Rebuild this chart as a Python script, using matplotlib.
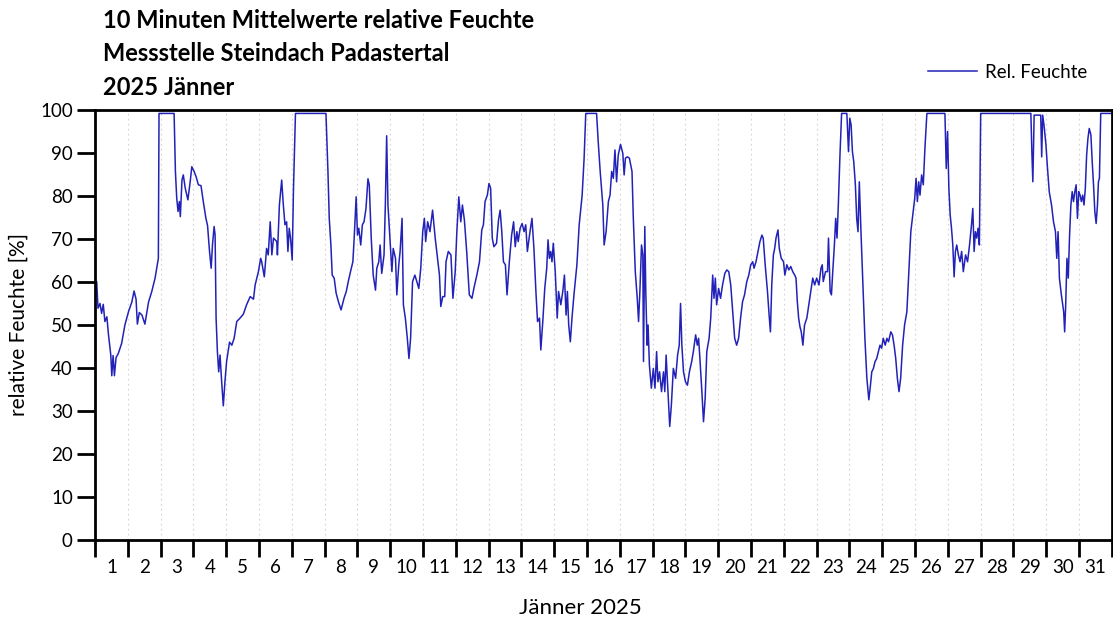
import matplotlib.pyplot as plt

plt.rcParams['font.family'] = ['Lato', 'DejaVu Sans']

# Zeitpunkt in Tagen ab 1. Jänner 00:00 und relative Feuchte in %
tage = [
    0.00, 0.05, 0.09, 0.15, 0.20, 0.25, 0.30, 0.36, 0.41, 0.48, 0.51, 0.55, 0.59, 0.64, 0.71,
    0.81, 0.91, 1.02, 1.12, 1.19, 1.25, 1.29, 1.35, 1.43, 1.52, 1.63, 1.73, 1.83, 1.88, 1.93,
    1.95, 2.41, 2.45, 2.49, 2.53, 2.57, 2.60, 2.65, 2.69, 2.75, 2.83, 2.90, 2.95, 3.02, 3.08,
    3.15, 3.23, 3.30, 3.38, 3.43, 3.49, 3.54, 3.58, 3.63, 3.66, 3.69, 3.73, 3.77, 3.81, 3.86,
    3.91, 3.96, 4.01, 4.10, 4.17, 4.24, 4.32, 4.42, 4.52, 4.62, 4.73, 4.83, 4.88, 4.98, 5.05,
    5.08, 5.16, 5.23, 5.28, 5.34, 5.39, 5.44, 5.54, 5.56, 5.62, 5.69, 5.74, 5.79, 5.84, 5.88,
    5.92, 5.96, 6.01, 6.05, 6.11, 7.04, 7.10, 7.14, 7.19, 7.23, 7.29, 7.35, 7.42, 7.50, 7.59,
    7.66, 7.72, 7.80, 7.86, 7.90, 7.96, 8.00, 8.04, 8.10, 8.15, 8.20, 8.26, 8.32, 8.36, 8.42,
    8.48, 8.55, 8.59, 8.65, 8.69, 8.74, 8.81, 8.85, 8.89, 8.93, 8.99, 9.05, 9.09, 9.16, 9.20,
    9.26, 9.30, 9.36, 9.40, 9.46, 9.52, 9.57, 9.62, 9.68, 9.75, 9.81, 9.87, 9.93, 9.99, 10.04,
    10.08, 10.14, 10.21, 10.29, 10.37, 10.44, 10.50, 10.54, 10.60, 10.66, 10.70, 10.77, 10.85, 10.91, 10.98,
    11.03, 11.09, 11.15, 11.20, 11.26, 11.33, 11.41, 11.49, 11.56, 11.64, 11.72, 11.79, 11.84, 11.89, 11.96,
    12.01, 12.06, 12.11, 12.16, 12.24, 12.30, 12.35, 12.40, 12.45, 12.51, 12.56, 12.63, 12.70, 12.76, 12.81,
    12.86, 12.90, 12.96, 13.02, 13.08, 13.13, 13.18, 13.26, 13.32, 13.38, 13.44, 13.49, 13.55, 13.59, 13.65,
    13.71, 13.77, 13.81, 13.85, 13.89, 13.93, 13.97, 14.03, 14.09, 14.13, 14.20, 14.26, 14.31, 14.36, 14.40,
    14.44, 14.49, 14.54, 14.60, 14.69, 14.76, 14.85, 14.91, 14.96, 15.29, 15.34, 15.40, 15.48, 15.52, 15.58,
    15.65, 15.70, 15.75, 15.80, 15.85, 15.90, 15.95, 16.02, 16.09, 16.13, 16.17, 16.23, 16.29, 16.33, 16.37,
    16.41, 16.47, 16.53, 16.57, 16.61, 16.66, 16.70, 16.72, 16.76, 16.79, 16.83, 16.86, 16.90, 16.96, 17.02,
    17.07, 17.12, 17.16, 17.21, 17.27, 17.33, 17.37, 17.41, 17.47, 17.52, 17.57, 17.63, 17.70, 17.76, 17.81,
    17.85, 17.89, 17.94, 18.00, 18.06, 18.12, 18.19, 18.24, 18.31, 18.36, 18.40, 18.44, 18.50, 18.55, 18.60,
    18.65, 18.72, 18.77, 18.83, 18.87, 18.91, 18.95, 19.01, 19.07, 19.13, 19.20, 19.26, 19.32, 19.38, 19.44,
    19.50, 19.56, 19.62, 19.68, 19.74, 19.80, 19.87, 19.93, 19.99, 20.05, 20.09, 20.15, 20.21, 20.27, 20.33,
    20.37, 20.43, 20.50, 20.55, 20.59, 20.63, 20.68, 20.72, 20.76, 20.82, 20.86, 20.92, 20.99, 21.03, 21.09,
    21.15, 21.21, 21.27, 21.33, 21.37, 21.41, 21.45, 21.49, 21.53, 21.58, 21.63, 21.70, 21.76, 21.82, 21.88,
    21.94, 22.00, 22.07, 22.13, 22.17, 22.20, 22.27, 22.33, 22.36, 22.41, 22.45, 22.49, 22.54, 22.58, 22.62,
    22.66, 22.71, 22.76, 22.92, 22.97, 23.01, 23.05, 23.09, 23.13, 23.18, 23.22, 23.26, 23.30, 23.35, 23.41,
    23.47, 23.53, 23.59, 23.63, 23.68, 23.73, 23.78, 23.83, 23.88, 23.93, 23.98, 24.03, 24.09, 24.14, 24.19,
    24.26, 24.31, 24.36, 24.41, 24.46, 24.51, 24.56, 24.62, 24.68, 24.75, 24.80, 24.87, 24.93, 24.99, 25.03,
    25.07, 25.11, 25.15, 25.20, 25.25, 25.30, 25.36, 25.86, 25.91, 25.95, 25.99, 26.03, 26.07, 26.11, 26.15,
    26.19, 26.23, 26.27, 26.32, 26.37, 26.42, 26.47, 26.54, 26.60, 26.66, 26.72, 26.76, 26.80, 26.84, 26.88,
    26.92, 26.96, 27.00, 28.53, 28.56, 28.59, 28.63, 28.83, 28.86, 28.89, 28.93, 28.99, 29.03, 29.09, 29.16,
    29.22, 29.28, 29.32, 29.36, 29.40, 29.46, 29.53, 29.56, 29.59, 29.63, 29.67, 29.71, 29.75, 29.79, 29.83,
    29.87, 29.91, 29.95, 29.99, 30.03, 30.07, 30.11, 30.15, 30.19, 30.23, 30.27, 30.31, 30.36, 30.40, 30.44,
    30.48, 30.52, 30.56, 30.59, 30.62, 30.66, 31.00,
]
feuchte = [
    57.8, 60.1, 53.9, 55.0, 52.7, 54.8, 50.8, 51.9, 47.7, 43.0, 38.2, 42.9, 38.2, 42.4, 43.4,
    45.7, 50.0, 53.1, 55.3, 57.9, 56.0, 50.2, 52.9, 52.3, 50.2, 55.3, 57.8, 60.9, 63.2, 65.5,
    99.2, 99.2, 85.7, 79.5, 76.4, 78.7, 75.2, 83.7, 84.9, 81.8, 79.1, 83.3, 86.8, 85.7, 84.5,
    82.6, 82.4, 78.7, 74.8, 73.1, 67.1, 63.2, 68.6, 72.9, 70.9, 51.6, 43.8, 39.1, 43.0, 36.8,
    31.2, 36.8, 41.5, 46.0, 45.3, 46.9, 50.8, 51.6, 52.5, 54.7, 56.6, 56.0, 59.3, 62.4, 65.5,
    64.7, 61.2, 67.8, 66.3, 74.0, 66.3, 70.2, 69.4, 66.3, 77.9, 83.7, 77.9, 73.3, 74.0, 67.1,
    72.5, 70.2, 65.1, 81.8, 99.2, 99.2, 85.7, 74.8, 68.6, 61.6, 60.9, 57.4, 55.4, 53.5, 56.2,
    57.8, 60.1, 62.8, 64.7, 70.2, 79.8, 70.9, 72.5, 68.6, 73.3, 74.0, 77.1, 84.0, 82.6, 70.2,
    61.6, 58.1, 63.2, 64.7, 68.6, 62.0, 66.3, 77.9, 94.0, 77.9, 70.2, 62.4, 67.8, 65.5, 57.0,
    64.0, 67.1, 74.8, 54.7, 51.6, 46.9, 42.2, 46.9, 60.1, 61.6, 60.1, 58.5, 63.2, 71.7, 74.8,
    69.4, 74.0, 71.7, 76.7, 70.2, 65.5, 61.6, 54.3, 56.6, 56.6, 64.7, 67.1, 66.3, 56.2, 62.4,
    71.7, 79.8, 74.0, 77.9, 74.4, 67.1, 57.0, 56.2, 58.9, 61.6, 64.7, 72.1, 73.3, 78.7, 80.2,
    82.9, 81.8, 70.2, 68.2, 69.0, 74.4, 76.7, 71.7, 64.7, 64.0, 57.0, 64.7, 70.9, 74.0, 68.2,
    71.7, 69.4, 72.5, 73.6, 71.7, 73.3, 67.1, 71.7, 74.8, 67.8, 57.8, 50.8, 51.6, 44.2, 50.8,
    58.5, 63.2, 69.8, 65.5, 67.1, 64.7, 69.0, 62.4, 51.6, 57.8, 54.7, 57.8, 61.6, 52.3, 57.8,
    50.0, 46.1, 51.6, 57.0, 64.0, 73.3, 80.2, 88.8, 99.2, 99.2, 92.6, 85.7, 77.9, 68.6, 71.7,
    78.7, 80.2, 85.7, 84.1, 90.7, 83.3, 89.5, 92.0, 89.9, 84.9, 88.8, 89.1, 88.8, 87.2, 85.7,
    74.8, 62.4, 56.2, 50.8, 57.8, 68.6, 66.3, 41.5, 72.9, 57.8, 45.3, 50.0, 40.7, 35.3, 39.9,
    35.3, 43.8, 36.8, 39.1, 34.5, 39.1, 34.5, 43.0, 33.7, 26.4, 31.4, 39.9, 37.6, 43.0, 45.3,
    55.0, 45.3, 39.1, 36.8, 36.0, 39.1, 41.5, 43.8, 47.7, 45.3, 46.9, 42.2, 34.5, 27.5, 32.9,
    43.8, 46.9, 51.6, 61.6, 56.2, 60.9, 54.7, 58.5, 56.2, 59.3, 62.0, 62.8, 62.4, 59.3, 53.1,
    46.9, 45.3, 46.9, 51.6, 55.4, 57.0, 60.1, 61.6, 64.0, 64.7, 63.2, 64.7, 67.1, 69.4, 70.9,
    70.2, 64.0, 57.8, 52.3, 48.4, 59.3, 66.3, 67.8, 70.2, 72.1, 67.8, 65.5, 64.7, 61.6, 64.0,
    62.8, 63.6, 62.4, 61.6, 60.9, 55.4, 51.6, 49.6, 48.4, 45.3, 50.0, 51.6, 54.7, 57.8, 60.9,
    59.3, 60.9, 59.3, 63.2, 64.0, 60.1, 62.4, 62.4, 70.2, 57.8, 57.0, 62.4, 68.6, 74.8, 70.2,
    77.9, 89.5, 99.2, 99.2, 90.3, 98.1, 96.5, 90.3, 88.0, 82.6, 74.8, 71.7, 83.3, 71.7, 59.3,
    46.9, 37.6, 32.6, 35.3, 39.1, 39.9, 41.5, 42.2, 43.8, 45.3, 44.6, 46.9, 45.3, 46.9, 46.1,
    48.4, 47.7, 45.3, 42.2, 37.6, 34.5, 37.6, 45.3, 50.0, 53.1, 60.9, 71.7, 75.6, 79.5, 84.1,
    78.7, 83.3, 80.2, 84.9, 82.6, 91.1, 99.2, 99.2, 99.2, 86.4, 95.0, 81.8, 75.6, 72.5, 68.6,
    61.2, 67.1, 68.6, 66.3, 64.7, 67.1, 62.4, 66.3, 64.7, 68.6, 73.3, 77.1, 67.1, 71.7, 70.2,
    72.5, 68.6, 99.2, 99.2, 90.3, 83.3, 98.8, 98.8, 89.1, 98.8, 96.5, 91.9, 87.2, 81.0, 77.9,
    74.0, 71.7, 65.5, 71.7, 60.9, 57.0, 53.1, 48.4, 54.3, 65.5, 60.9, 70.9, 77.9, 81.0, 78.7,
    81.0, 82.6, 74.8, 81.0, 80.2, 78.7, 80.2, 77.9, 81.8, 89.5, 93.4, 95.7, 94.2, 88.0, 82.6,
    76.4, 73.6, 77.9, 83.3, 84.1, 99.2, 99.2,
]
tag_labels = [str(d) for d in range(1, 32)]

fig = plt.figure(figsize=(11.13, 6.27), dpi=100)
ax = fig.add_axes([0.0854, 0.1388, 0.9136, 0.6858])

ax.plot(tage, feuchte, color='#2222b8', lw=1.1, label='Rel. Feuchte')

ax.set_xlim(0, 31)
ax.set_ylim(0, 100)

# Tagesgrenzen als Striche, Tagesnummern in der Mitte
ax.set_xticks(range(0, 32))
ax.set_xticklabels([])
ax.set_xticks([d + 0.5 for d in range(31)], minor=True)
ax.set_xticklabels(tag_labels, minor=True)
ax.tick_params(axis='x', which='major', direction='out', length=12, width=2, color='black')
ax.tick_params(axis='x', which='minor', length=0, pad=14, labelsize=13.5)
ax.set_yticks(range(0, 101, 10))
ax.tick_params(axis='y', direction='out', length=13, width=2, labelsize=13.5, pad=3)

for d in range(1, 31):
    ax.axvline(d, color='#d4d4d4', lw=0.8, ls=(0, (1.5, 3)), zorder=0)

for s in ax.spines.values():
    s.set_linewidth(2)
    s.set_color('black')

ax.set_ylabel('relative Feuchte [%]', fontsize=15, labelpad=8)
ax.set_xlabel('Jänner 2025', fontsize=16)
ax.xaxis.set_label_coords(0.477, -0.135)

fig.text(0.0925, 0.968, '10 Minuten Mittelwerte relative Feuchte', fontsize=17, fontweight='bold', va='center')
fig.text(0.0925, 0.914, 'Messstelle Steindach Padastertal', fontsize=17, fontweight='bold', va='center')
fig.text(0.0925, 0.860, '2025 Jänner', fontsize=17, fontweight='bold', va='center')

fig.legend(loc='center left', bbox_to_anchor=(0.819, 0.885), frameon=False, fontsize=13.5,
           handlelength=2.6, handletextpad=0.4)

fig.savefig('out.png', dpi=100)
